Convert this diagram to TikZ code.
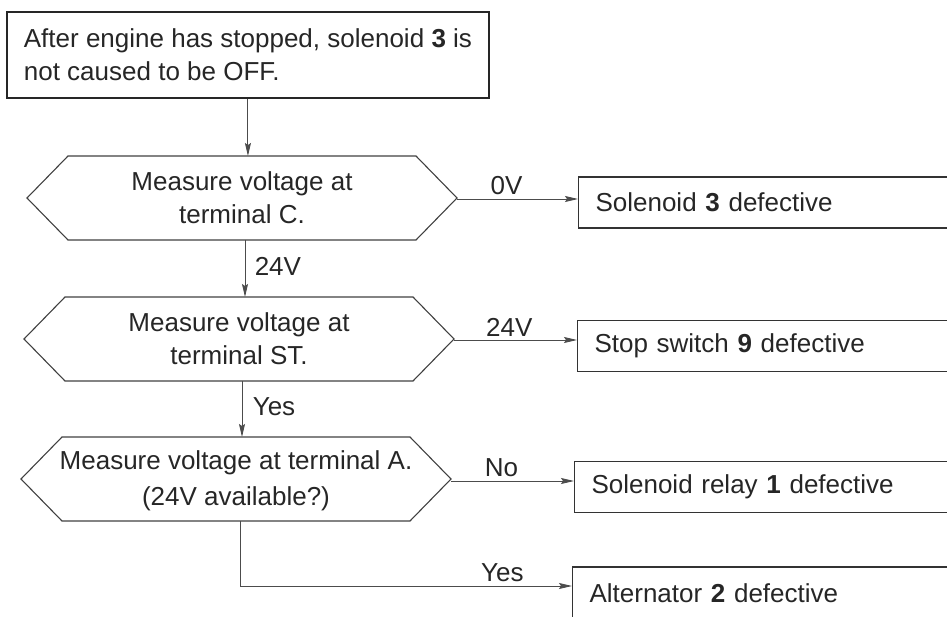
\documentclass[tikz,border=0pt]{standalone}
\usepackage{fontspec}
\setmainfont{Liberation Sans}
\usetikzlibrary{arrows.meta,calc}
\begin{document}
\begin{tikzpicture}[x=1pt,y=-1pt,
  every node/.style={font=\fontsize{26}{33}\selectfont, text=black!85},
  box/.style={draw=black!80, line width=1.1pt, anchor=west, text width=348pt,
    inner xsep=17pt, align=left, minimum height=51pt},
  hexnode/.style={minimum width=348pt, minimum height=84pt, align=center, inner sep=0pt},
  hexline/.style={draw=black!75, line width=1.1pt, line join=miter},
  arr/.style={draw=black!70, line width=0.9pt, -{Stealth[length=13pt,width=6pt,inset=2pt]}}
]
\useasboundingbox (0,0) rectangle (947,617);

% start box
\node[draw=black!85, line width=1.8pt, align=left, inner xsep=17pt,
      minimum height=86pt, anchor=west] (start) at (6,55)
  {After engine has stopped, solenoid \textbf{3} is\\not caused to be OFF.};

% decision hexagons
\node[hexnode] (h1) at (242,198) {Measure voltage at\\terminal C.};
\node[hexnode] (h2) at (239,339) {Measure voltage at\\terminal ST.};
\node[hexnode, font=\fontsize{26}{36}\selectfont] (h3) at (236,481) {Measure voltage at terminal A.\\(24V available?)};
\foreach \h/\dy in {h1/0,h2/0,h3/-2}
  \draw[hexline] ($(\h.center)+(-174,-42+\dy)$) -- ++(348,0) -- ++(41,42) -- ++(-41,42)
     -- ++(-348,0) -- ++(-41,-42) -- cycle;

\coordinate (h1t) at ($(h1.center)+(0,-42)$);
\coordinate (h1b) at ($(h1.center)+(3,42)$);
\coordinate (h1r) at ($(h1.center)+(215,1)$);
\coordinate (h2t) at ($(h2.center)+(0,-42)$);
\coordinate (h2b) at ($(h2.center)+(3,42)$);
\coordinate (h2r) at ($(h2.center)+(215,1)$);
\coordinate (h3t) at ($(h3.center)+(0,-44)$);
\coordinate (h3b) at ($(h3.center)+(4,40)$);
\coordinate (h3r) at ($(h3.center)+(215,0)$);
\coordinate (y4) at (0,586);

% result boxes
\node[box] (b1) at (578,202.5) {Solenoid \textbf{3} defective};
\node[box] (b2) at (577,346) {Stop switch \textbf{9} defective};
\node[box] (b3) at (574,487) {Solenoid relay \textbf{1} defective};
\node[box, minimum height=52pt] (b4) at (572,593) {Alternator \textbf{2} defective};

% connectors
\draw[arr] (start.south) -- (start.south |- h1t);
\draw[arr] (h1b) -- node[right, xshift=6pt, yshift=2pt]{24V} (h1b |- h2t);
\draw[arr] (h2b) -- node[right, xshift=7pt, yshift=2pt]{Yes} (h2b |- h3t);
\draw[arr] (h1r) -- node[above, pos=0.41]{0V} (h1r -| b1.west);
\draw[arr] (h2r) -- node[above, pos=0.45]{24V} (h2r -| b2.west);
\draw[arr] (h3r) -- node[above, pos=0.41]{No} (h3r -| b3.west);
\draw[arr] (h3b) |- node[above, pos=0.895]{Yes} (b4.west |- y4);
\end{tikzpicture}
\end{document}
